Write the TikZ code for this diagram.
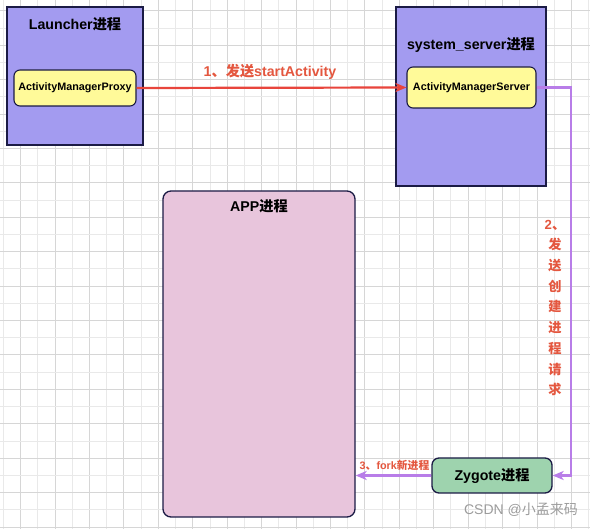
\documentclass[tikz,border=0pt]{standalone}
\usepackage{fontspec}
\setmainfont{Liberation Sans}
\newfontfamily\cjk{Noto Sans CJK SC}
\usetikzlibrary{arrows.meta}
\newcommand{\zh}[1]{{\cjk #1}}
\definecolor{gridD}{HTML}{D6D6D6}
\definecolor{gridL}{HTML}{E9E9E9}
\definecolor{procblue}{HTML}{A39BF0}
\definecolor{edgenavy}{HTML}{1B1B45}
\definecolor{yel}{HTML}{FFFA99}
\definecolor{pinkbox}{HTML}{E8C5DC}
\definecolor{greenbox}{HTML}{9ED3AE}
\definecolor{redline}{HTML}{E8453C}
\definecolor{redtext}{HTML}{E4573F}
\definecolor{purp}{HTML}{B87DE8}
\definecolor{wm}{HTML}{9C9C9C}
\tikzset{
  procbox/.style={draw=edgenavy, line width=1.4pt, fill=procblue},
  innerbox/.style={draw=edgenavy, line width=1.1pt, fill=yel, rounded corners=6pt,
    font=\bfseries\fontsize{10.8}{12}\selectfont},
  title/.style={font=\bfseries\fontsize{14.2}{16}\selectfont, inner sep=0pt},
  lbl/.style={text=redtext, font=\bfseries, inner sep=0pt},
  arr/.style={line width=2.2pt, -{Stealth[length=11pt,width=9pt,inset=3pt]}},
}
\begin{document}
\begin{tikzpicture}[x=1pt,y=-1pt]
\useasboundingbox (0,0) rectangle (590,529);
\fill[white] (0,0) rectangle (590,529);
% grid
\foreach \k in {0,...,34}{
  \pgfmathsetmacro{\xx}{3.5+17.21*\k}
  \ifodd\k
    \draw[gridD, line width=1pt] (\xx,0) -- (\xx,529);
  \else
    \draw[gridL, line width=1pt] (\xx,0) -- (\xx,529);
  \fi
}
\foreach \k in {0,...,30}{
  \pgfmathsetmacro{\yy}{10.8+17.21*\k}
  \ifodd\k
    \draw[gridL, line width=1pt] (0,\yy) -- (590,\yy);
  \else
    \draw[gridD, line width=1pt] (0,\yy) -- (590,\yy);
  \fi
}
% Launcher
\draw[procbox] (7,7) rectangle (143,145);
\node[title] (lt) at (75,24) {Launcher\zh{进程}};
\node[innerbox, minimum width=122pt, minimum height=36pt, inner sep=0pt] (amp) at (75,88) {ActivityManagerProxy};
% system_server
\draw[procbox] (396,7) rectangle (546,186);
\node[title] (st) at (471,45) {system\_server\zh{进程}};
\node[innerbox, minimum width=129pt, minimum height=41pt, inner sep=0pt] (ams) at (471.5,87.5) {ActivityManagerServer};
% APP
\node[draw=edgenavy, line width=1.3pt, fill=pinkbox, rounded corners=8pt,
  minimum width=192pt, minimum height=326pt, inner sep=0pt] (app) at (259,354) {};
\node[title] (at) at (259,206) {APP\zh{进程}};
% Zygote
\node[draw=edgenavy, line width=1.3pt, fill=greenbox, rounded corners=7pt,
  minimum width=120pt, minimum height=35pt, inner sep=0pt,
  font=\bfseries\fontsize{14.2}{16}\selectfont] (zyg) at (492,475.5) {Zygote\zh{进程}};
% arrow 1
\draw[arr, redline] (amp.east) -- (ams.west);
\node[lbl, font=\bfseries\fontsize{14.2}{16}\selectfont] (l1) at (270,72) {1\zh{、发送}startActivity};
% arrow 2
\coordinate (c1) at (571,87.5);
\draw[arr, purp] (ams.east) -- (c1) |- (zyg.east);
\node[lbl, font=\bfseries\fontsize{13.2}{20.7}\selectfont, align=center] (l2) at (555,308)
  {2\zh{、}\\\zh{发}\\\zh{送}\\\zh{创}\\\zh{建}\\\zh{进}\\\zh{程}\\\zh{请}\\\zh{求}};
% arrow 3
\draw[arr, purp] (zyg.west) -- (zyg.west -| app.east);
\node[lbl, font=\bfseries\fontsize{10.8}{12}\selectfont] (l3) at (394.5,465) {3\zh{、}fork\zh{新进程}};
% watermark
\node[text=wm, font=\fontsize{14}{17}\selectfont, inner sep=0pt] (wmk) at (521,510) {CSDN @\zh{小孟来码}};
\end{tikzpicture}
\end{document}
